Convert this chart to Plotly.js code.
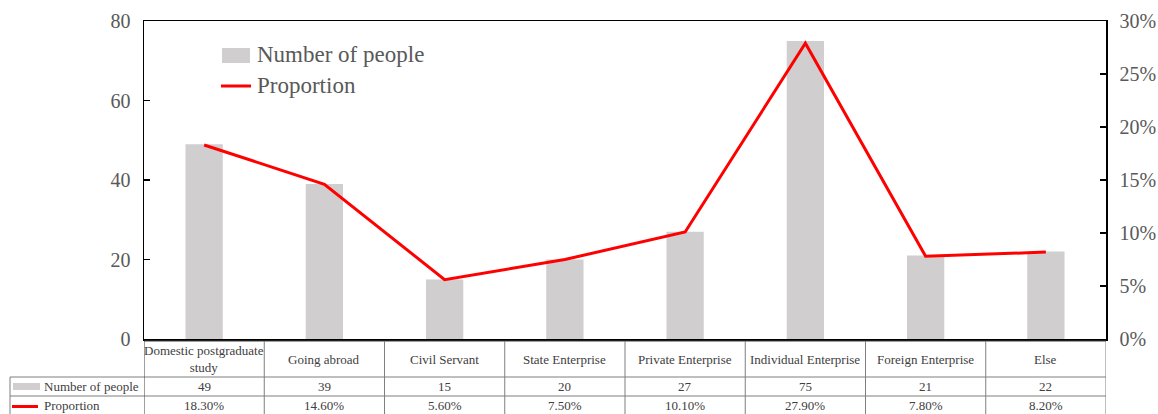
<!DOCTYPE html>
<html><head><meta charset="utf-8">
<script src="https://cdn.plot.ly/plotly-3.0.1.min.js"></script>
<style>body{margin:0;background:#fff}#c{width:1158px;height:414px}</style>
</head><body><div id="c"></div>
<script>
const categories = ["Domestic postgraduate study","Going abroad","Civil Servant","State Enterprise","Private Enterprise","Individual Enterprise","Foreign Enterprise","Else"];
const headerLabels = ["Domestic postgraduate<br>study","Going abroad","Civil Servant","State Enterprise","Private Enterprise","Individual Enterprise","Foreign Enterprise","Else"];
const people = [49,39,15,20,27,75,21,22];
const proportion = [0.183,0.146,0.056,0.075,0.101,0.279,0.078,0.082];
const propLabels = ["18.30%","14.60%","5.60%","7.50%","10.10%","27.90%","7.80%","8.20%"];
const seriesNames = ["Number of people","Proportion"];

const FONT = "Liberation Serif";
const W = 1158, H = 414, L = 144, R = 52, T = 21, B = 75;
const pw = W - L - R, ph = H - T - B;
const py = px => (H - B - px) / ph;        // pixel y -> paper y
const pxX = px => (px - L) / pw;           // pixel x -> paper x

const traces = [
  {type:'bar', x:categories, y:people, name:seriesNames[0], marker:{color:'#d0cece'}, width:0.31, yaxis:'y', showlegend:false},
  {type:'scatter', mode:'lines', x:categories, y:proportion, name:seriesNames[1], line:{color:'#ff0000', width:3}, yaxis:'y2', showlegend:false}
];

const lineCol = '#7f7f7f';
const shapes = [];
const n = categories.length;
const yTop = py(341), yMid1 = py(377), yMid2 = py(396), yBot = py(414);
shapes.push({type:'line', xref:'x', yref:'paper', x0:-0.5, x1:n-0.5, y0:yTop, y1:yTop, line:{color:'#404040', width:1}});
shapes.push({type:'line', xref:'paper', yref:'paper', x0:pxX(10), x1:1, y0:yMid1, y1:yMid1, line:{color:lineCol, width:1}});
shapes.push({type:'line', xref:'paper', yref:'paper', x0:pxX(10), x1:1, y0:yMid2, y1:yMid2, line:{color:lineCol, width:1}});
for (let i = 0; i <= n; i++) {
  shapes.push({type:'line', xref:'x', yref:'paper', x0:i-0.5, x1:i-0.5, y0:yTop, y1:yBot, line:{color: i===0 ? '#404040' : lineCol, width:1}});
}
shapes.push({type:'line', xref:'paper', yref:'paper', x0:pxX(10), x1:pxX(10), y0:yMid1, y1:yBot, line:{color:lineCol, width:1}});
// table legend keys
shapes.push({type:'rect', xref:'paper', yref:'paper', x0:pxX(13), x1:pxX(40), y0:py(390), y1:py(383), fillcolor:'#d0cece', line:{width:0}});
shapes.push({type:'line', xref:'paper', yref:'paper', x0:pxX(12), x1:pxX(38), y0:py(406.5), y1:py(406.5), line:{color:'#ff0000', width:3}});
// chart legend keys
shapes.push({type:'rect', xref:'paper', yref:'paper', x0:pxX(222), x1:pxX(250), y0:py(63), y1:py(48), fillcolor:'#d0cece', line:{width:0}});
shapes.push({type:'line', xref:'paper', yref:'paper', x0:pxX(221), x1:pxX(251), y0:py(86), y1:py(86), line:{color:'#ff0000', width:3}});

const annotations = [];
const tf = {family:FONT, size:13, color:'#404040'};
categories.forEach((c, i) => {
  annotations.push({xref:'x', yref:'paper', x:c, y:py(359), text:headerLabels[i], showarrow:false, font:tf, xanchor:'center', yanchor:'middle'});
  annotations.push({xref:'x', yref:'paper', x:c, y:py(386.5), text:String(people[i]), showarrow:false, font:tf, xanchor:'center', yanchor:'middle'});
  annotations.push({xref:'x', yref:'paper', x:c, y:py(405.5), text:propLabels[i], showarrow:false, font:tf, xanchor:'center', yanchor:'middle'});
});
annotations.push({xref:'paper', yref:'paper', x:pxX(42), y:py(386.5), text:seriesNames[0], showarrow:false, font:tf, xanchor:'left', yanchor:'middle'});
annotations.push({xref:'paper', yref:'paper', x:pxX(42), y:py(405.5), text:seriesNames[1], showarrow:false, font:tf, xanchor:'left', yanchor:'middle'});
const lf = {family:FONT, size:23, color:'#595959'};
annotations.push({xref:'paper', yref:'paper', x:pxX(255), y:py(55), text:seriesNames[0], showarrow:false, font:lf, xanchor:'left', yanchor:'middle'});
annotations.push({xref:'paper', yref:'paper', x:pxX(255), y:py(86), text:seriesNames[1], showarrow:false, font:lf, xanchor:'left', yanchor:'middle'});

const tickFont = {family:FONT, size:20, color:'#595959'};
const layout = {
  width:W, height:H,
  margin:{l:L, r:R, t:T, b:B, pad:0},
  paper_bgcolor:'#fff', plot_bgcolor:'#fff',
  showlegend:false,
  xaxis:{showticklabels:false, ticks:'', showline:true, linecolor:'#000', linewidth:1.5, mirror:true, showgrid:false, zeroline:false, range:[-0.5, n-0.5]},
  yaxis:{range:[0,80], dtick:20, ticks:'inside', ticklen:6, tickcolor:'#000', tickwidth:1.5, showline:true, linecolor:'#000', linewidth:1.5, showgrid:false, zeroline:false, tickfont:tickFont, ticklabelstandoff:8},
  yaxis2:{overlaying:'y', side:'right', range:[0,0.30], dtick:0.05, tickformat:'.0%', ticks:'inside', ticklen:6, tickcolor:'#000', tickwidth:1.5, showline:true, linecolor:'#000', linewidth:1.5, showgrid:false, zeroline:false, tickfont:tickFont, ticklabelstandoff:8},
  shapes:shapes,
  annotations:annotations,
  font:{family:FONT}
};
Plotly.newPlot('c', traces, layout, {displayModeBar:false, staticPlot:true});
</script>
</body></html>
